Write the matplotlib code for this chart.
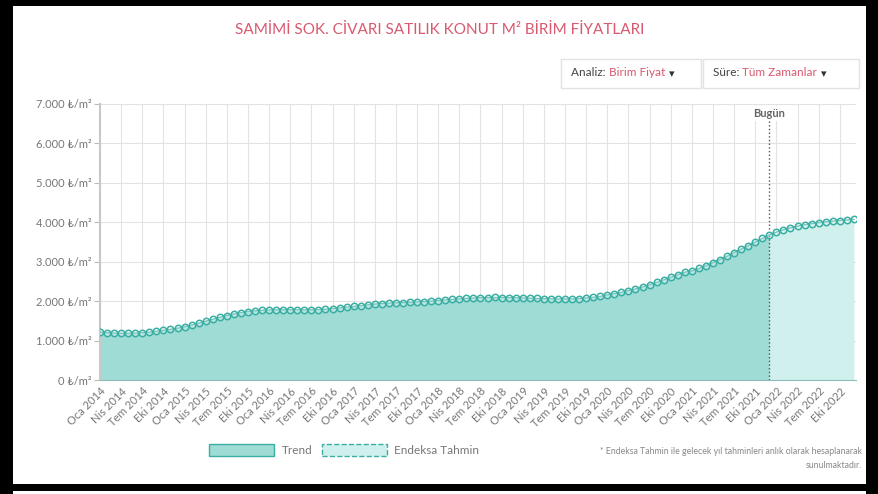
import matplotlib
matplotlib.use('Agg')
import matplotlib.pyplot as plt
from matplotlib.patches import Patch, Rectangle
import numpy as np

plt.rcParams['font.family'] = ['Lato', 'DejaVu Sans']

# aylik m2 birim fiyatlari, Oca 2014 - Ara 2022
prices = [
    1215, 1200, 1190, 1185, 1185, 1190, 1200, 1215, 1235, 1258, 1285, 1315,
    1350, 1395, 1440, 1490, 1540, 1590, 1635, 1675, 1708, 1735, 1755, 1768,
    1775, 1780, 1782, 1782, 1780, 1778, 1780, 1785, 1795, 1810, 1828, 1848,
    1865, 1885, 1905, 1925, 1940, 1950, 1958, 1965, 1972, 1980, 1990, 2002,
    2015, 2030, 2045, 2058, 2070, 2080, 2088, 2092, 2093, 2092, 2090, 2085,
    2080, 2075, 2068, 2062, 2058, 2055, 2055, 2058, 2065, 2080, 2098, 2120,
    2160, 2190, 2225, 2265, 2310, 2360, 2415, 2475, 2540, 2605, 2670, 2735,
    2765, 2830, 2900, 2975, 3055, 3140, 3230, 3320, 3410, 3500, 3590, 3680,
    3750, 3810, 3860, 3900, 3935, 3965, 3990, 4010, 4030, 4045, 4060, 4075,
]
years = [2014, 2015, 2016, 2017, 2018, 2019, 2020, 2021, 2022]
quarters = ['Oca', 'Nis', 'Tem', 'Eki']
tick_labels = [f'{q} {y}' for y in years for q in quarters]
y_ticks = [0, 1000, 2000, 3000, 4000, 5000, 6000, 7000]
y_labels = ['0 ₺/m²', '1.000 ₺/m²', '2.000 ₺/m²', '3.000 ₺/m²',
            '4.000 ₺/m²', '5.000 ₺/m²', '6.000 ₺/m²', '7.000 ₺/m²']
today_idx = 95

teal = '#3aaea3'
trend_fill = '#9fdcd6'
tahmin_fill = '#cff0ec'
gray = '#777777'
pink = '#d9596f'

W, H = 879, 494
fig = plt.figure(figsize=(W / 100, H / 100), dpi=100)
fig.patch.set_facecolor('white')

ax = fig.add_axes([100 / W, 1 - 380 / H, 756 / W, 276 / H])
x = np.arange(len(prices))

ax.fill_between(x[:today_idx + 1], prices[:today_idx + 1], color=trend_fill, lw=0, zorder=1)
ax.fill_between(x[today_idx:], prices[today_idx:], color=tahmin_fill, lw=0, zorder=1)
ax.plot(x, prices, color=teal, lw=1, marker='o', ms=4.6, mew=1.1,
        mfc=(1, 1, 1, 0.3), mec=teal, zorder=3)

ax.axvline(today_idx, color='#555555', ls=':', lw=1, zorder=2)
ax.text(today_idx, 7000 - 250, 'Bugün', ha='center', va='center', fontsize=8,
        color='#666666', fontweight='bold',
        bbox=dict(facecolor='white', edgecolor='none', pad=1.5), zorder=4)

ax.set_xlim(0, 107.3)
ax.set_ylim(0, 7000)
ax.set_xticks(np.arange(0, len(tick_labels) * 3, 3))
ax.set_xticklabels(tick_labels, rotation=45, ha='right', rotation_mode='anchor',
                   fontsize=8, color=gray)
ax.set_yticks(y_ticks)
ax.set_yticklabels(y_labels, fontsize=8, color=gray)
ax.tick_params(axis='x', length=0, pad=4)
ax.tick_params(axis='y', length=4, color='#bbbbbb', pad=2)
ax.grid(True, color='#e3e3e3', lw=0.8, zorder=0)
ax.set_axisbelow(True)
for s in ['top', 'right']:
    ax.spines[s].set_visible(False)
ax.spines['left'].set_color('#c8c8c8')
ax.spines['left'].set_linewidth(1.5)
ax.spines['bottom'].set_color('#8fbcb7')

fig.text(440 / W, 1 - 30 / H, 'SAMİMİ SOK. CİVARI SATILIK KONUT M² BİRİM FİYATLARI',
         ha='center', va='center', fontsize=11, color=pink)

# secim kutulari
fig.canvas.draw()
for (x0, x1, lbl, val) in [(561, 701, 'Analiz: ', 'Birim Fiyat'),
                           (703, 859, 'Süre: ', 'Tüm Zamanlar')]:
    fig.add_artist(Rectangle((x0 / W, 1 - 88 / H), (x1 - x0) / W, 29 / H,
                             transform=fig.transFigure, facecolor='white',
                             edgecolor='#e2e2e2', lw=1))
    t = fig.text((x0 + 10) / W, 1 - 73 / H, lbl, ha='left', va='center',
                 fontsize=8.5, color='#444444')
    bb = t.get_window_extent(renderer=fig.canvas.get_renderer())
    t2 = fig.text(bb.x1 / W, 1 - 73 / H, val, ha='left', va='center',
                  fontsize=8.5, color=pink)
    bb2 = t2.get_window_extent(renderer=fig.canvas.get_renderer())
    fig.text((bb2.x1 + 4) / W, 1 - 74 / H, '▾', ha='left', va='center',
             fontsize=8, color='#333333')

handles = [Patch(facecolor=trend_fill, edgecolor=teal, lw=1, label='Trend'),
           Patch(facecolor=tahmin_fill, edgecolor=teal, lw=1, ls='--', label='Endeksa Tahmin')]
fig.legend(handles=handles, loc='center', bbox_to_anchor=(344 / W, 1 - 450 / H),
           ncol=2, frameon=False, fontsize=8.5, labelcolor=gray,
           handlelength=5.5, handleheight=1.3, columnspacing=0.8, handletextpad=0.6)

fig.text(862 / W, 1 - 451 / H,
         '* Endeksa Tahmin ile gelecek yıl tahminleri anlık olarak hesaplanarak',
         ha='right', va='center', fontsize=6.3, color='#888888')
fig.text(862 / W, 1 - 465 / H, 'sunulmaktadır.', ha='right', va='center',
         fontsize=6.3, color='#888888')

# siyah cerceve
for r in [(0, 0, 13, H), (866, 0, W - 866, H), (0, 0, W, 6), (0, 484, W, 7)]:
    fig.add_artist(Rectangle((r[0] / W, 1 - (r[1] + r[3]) / H), r[2] / W, r[3] / H,
                             transform=fig.transFigure, facecolor='black',
                             edgecolor='none', zorder=10))

fig.savefig('out.png', dpi=100)
